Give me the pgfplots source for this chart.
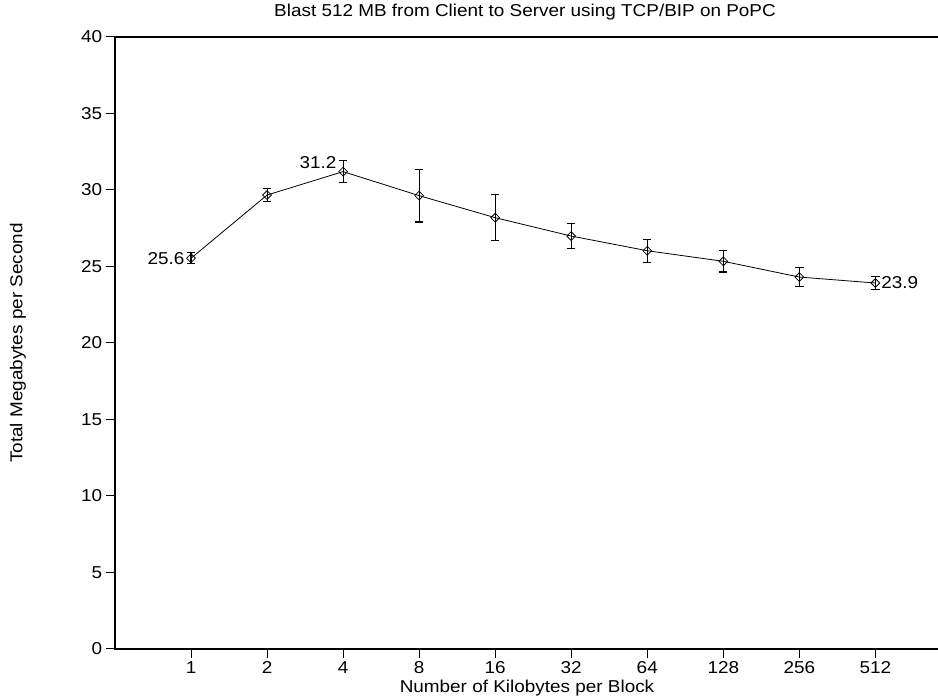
\documentclass[border=0pt]{standalone}
\usepackage{fontspec}
\setmainfont[FakeStretch=1.1]{Liberation Sans}
\usepackage{pgfplots}
\pgfplotsset{compat=1.18}
\begin{document}
\fontsize{17.2}{20}\selectfont
\begin{tikzpicture}
\useasboundingbox (0,0) rectangle (938pt,698pt);
\begin{axis}[
  at={(115pt,49pt)}, anchor=south west,
  scale only axis, width=825pt, height=612pt,
  xmin=-1, xmax=9.85, ymin=0, ymax=40,
  xtick={0,...,9},
  xticklabels={1,2,4,8,16,32,64,128,256,512},
  ytick={0,5,...,40},
  xtick pos=bottom, ytick pos=left,
  tick align=outside, major tick length=9pt,
  every tick/.style={black, line width=1pt},
  axis line style={line width=1.5pt},
  /pgf/number format/assume math mode=true,
  tick label style={font=\fontsize{17.2}{20}\selectfont},
  yticklabel style={xshift=2pt},
  xticklabel style={yshift=2pt},
  clip=false,
]
\addplot[black, line width=0.8pt, mark=square, mark size=3.1pt,
  mark options={rotate=45, solid, fill=white, line width=0.8pt},
  error bars/.cd, y dir=both, y explicit,
  error bar style={line width=1.1pt, black},
  error mark options={rotate=90, mark size=4.2pt, line width=1.1pt}]
coordinates {
(0,25.54) +- (0,0.35)
(1,29.67) +- (0,0.42)
(2,31.20) +- (0,0.73)
(3,29.63) +- (0,1.72)
(4,28.19) +- (0,1.50)
(5,26.99) +- (0,0.83)
(6,26.03) +- (0,0.75)
(7,25.34) +- (0,0.70)
(8,24.31) +- (0,0.60)
(9,23.92) +- (0,0.43)
};
\node[anchor=east, inner sep=0pt, xshift=-6.5pt] at (axis cs:0,25.54) {25.6};
\node[anchor=east, inner sep=0pt, xshift=-6.5pt, yshift=9pt] at (axis cs:2,31.20) {31.2};
\node[anchor=west, inner sep=0pt, xshift=5.7pt] at (axis cs:9,23.92) {23.9};
\end{axis}
\node at (525pt,686pt) {Blast 512 MB from Client to Server using TCP/BIP on PoPC};
\node at (527pt,10pt) {Number of Kilobytes per Block};
\node[rotate=90] at (18pt,355pt) {Total Megabytes per Second};
\end{tikzpicture}
\end{document}
